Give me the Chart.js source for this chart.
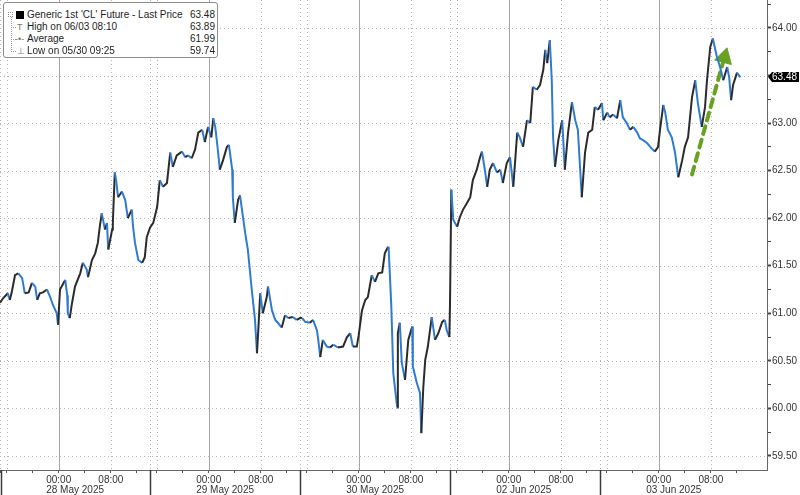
<!DOCTYPE html>
<html>
<head>
<meta charset="utf-8">
<script src="https://cdn.jsdelivr.net/npm/chart.js@4.4.1/dist/chart.umd.min.js"></script>
<style>
html, body { margin: 0; padding: 0; background: #fff; }
#wrap { position: relative; width: 800px; height: 495px; }
#legend { position: absolute; left: 3px; top: 2px; width: 215px; height: 56px; box-sizing: border-box;
  border: 1px solid #8c8c8c; border-radius: 3px; background: #fff;
  font: 10px 'Liberation Sans', Arial, sans-serif; color: #1e1e1e; }
.row { position: absolute; left: 0; right: 2px; height: 12px; line-height: 12px; white-space: nowrap; }
.row .lbl { position: absolute; left: 23px; }
.row .val { position: absolute; right: 0; }
.ico { position: absolute; color: #777; font-size: 9px; }
.tree { position: absolute; left: 7px; top: 14px; height: 33px; border-left: 1px dotted #999; }
.branch { position: absolute; left: 7px; width: 5px; border-top: 1px dotted #999; }
</style>
</head>
<body>
<div id="wrap">
  <canvas id="chart" width="800" height="495"></canvas>
  <div id="legend">
    <div class="tree"></div>
    <div class="branch" style="top:24px"></div>
    <div class="branch" style="top:36px"></div>
    <div class="branch" style="top:48px"></div>
    <div class="row" style="top:6px">
      <span style="position:absolute;left:4px;top:3px;width:5px;height:5px;border:1px dotted #888;box-sizing:border-box"></span>
      <span style="position:absolute;left:12px;top:2px;width:8px;height:8px;background:#000"></span>
      <span class="lbl">Generic 1st 'CL' Future - Last Price</span><span class="val">63.48</span>
    </div>
    <div class="row" style="top:18px">
      <span class="ico" style="left:13px">T</span>
      <span class="lbl">High on 06/03 08:10</span><span class="val">63.89</span>
    </div>
    <div class="row" style="top:30px">
      <span class="ico" style="left:11px">-•-</span>
      <span class="lbl">Average</span><span class="val">61.99</span>
    </div>
    <div class="row" style="top:42px">
      <span class="ico" style="left:13px">⊥</span>
      <span class="lbl">Low on 05/30 09:25</span><span class="val">59.74</span>
    </div>
  </div>
</div>
<script>
// Chart defaults
Chart.defaults.font.family = "'Liberation Sans', Arial, sans-serif";
Chart.defaults.font.size = 10;
Chart.defaults.color = '#333';

// Sessions (23h each, weekend removed), x = hours since first session open
const sessionDays = ['28 May 2025', '29 May 2025', '30 May 2025', '02 Jun 2025', '03 Jun 2025'];
const sessionLength = 23;
const tickOffsets = [0, 1, 5, 9, 13, 17, 21];
const tickTexts   = ['', '', '', '00:00', '', '08:00', ''];

// Price path
const hours = [
  0.0, 0.5, 1.2, 1.5, 1.8, 2.3, 2.8, 3.4, 3.8, 4.4, 4.9, 5.4, 5.7, 6.1, 6.6, 7.2, 7.7, 8.1, 8.7, 8.9,
  9.2, 10.0, 10.3, 10.4, 10.7, 11.0, 11.5, 12.3, 12.7, 13.3, 13.5, 14.1, 14.6, 15.0, 15.3, 15.6, 16.1, 16.4, 16.6, 17.2,
  17.3, 17.6, 17.8, 18.1, 18.7, 19.2, 19.6, 20.2, 20.4, 20.7, 21.2, 21.8, 22.2, 22.5, 23.0,
  23.5, 24.1, 24.5, 25.0, 25.6, 26.1, 26.5, 27.1, 27.9, 28.4, 28.8, 29.4, 29.9, 30.4, 31.0, 31.4, 31.9, 32.4, 32.7, 33.0,
  33.4, 33.7, 34.2, 34.8, 35.1, 35.6, 35.7, 36.0, 36.5, 36.8, 37.1, 37.6, 38.0, 38.6, 39.1, 39.4, 39.6, 39.9, 40.3, 40.9,
  41.1, 41.7, 42.2, 42.6, 43.2, 43.7, 44.2, 44.9, 45.5, 46.0,
  46.3, 46.8, 47.5, 48.0, 48.6, 48.8, 49.1, 49.5, 50.1, 50.6, 51.1, 51.8, 52.6, 53.2, 53.7, 54.1, 54.7, 55.0, 55.5, 56.0,
  56.4, 57.0, 57.5, 58.0, 58.6, 59.0, 59.5, 59.6, 60.0, 60.3, 60.6, 60.9, 61.0, 61.3, 61.6, 62.1, 62.6, 63.2, 63.3, 63.9,
  64.4, 64.6, 64.9, 65.2, 65.6, 66.2, 66.7, 67.2, 67.8, 68.2, 68.5, 68.9,
  69.0, 69.2, 69.5, 70.1, 70.5, 71.0, 71.6, 72.1, 72.5, 73.1, 73.6, 73.9, 74.4, 74.7, 75.1, 75.6, 76.2, 76.7, 77.1, 77.7,
  78.2, 78.7, 79.3, 79.7, 80.2, 80.8, 81.3, 81.7, 82.3, 82.8, 83.3, 83.6, 83.9, 84.3, 84.6, 84.8, 85.1, 85.6, 86.2, 86.6,
  87.1, 87.7, 88.2, 88.6, 89.2, 89.7, 90.2, 90.8, 91.2, 91.7,
  92.3, 92.5, 93.1, 93.5, 94.0, 94.6, 95.1, 95.5, 96.1, 96.6, 97.1, 97.7, 98.1, 98.6, 99.2, 99.7, 100.4, 100.9, 101.2, 101.7,
  102.0, 102.4, 103.0, 103.5, 104.0, 104.6, 105.0, 105.5, 106.1, 106.6, 107.0, 107.6, 108.1, 108.4, 108.9, 109.3, 109.9, 110.4, 110.9, 111.5,
  111.8, 112.1, 112.4, 113.0, 113.5
];
const prices = [
  61.11, 61.16, 61.21, 61.14, 61.22, 61.40, 61.42, 61.37, 61.21, 61.22, 61.32, 61.28, 61.14, 61.21, 61.22, 61.25, 61.17, 61.09, 61.00, 60.88,
  61.25, 61.35, 61.19, 61.00, 60.95, 61.09, 61.28, 61.42, 61.53, 61.46, 61.38, 61.56, 61.63, 61.74, 61.91, 62.05, 61.88, 61.95, 61.67, 61.88,
  61.95, 62.48, 62.40, 62.22, 62.28, 62.19, 62.00, 62.09, 61.91, 61.74, 61.56, 61.53, 61.59, 61.80, 61.90,
  61.95, 62.12, 62.40, 62.33, 62.37, 62.69, 62.54, 62.66, 62.70, 62.64, 62.66, 62.63, 62.72, 62.90, 62.93, 62.80, 62.96, 62.85, 63.05, 62.96,
  62.72, 62.51, 62.61, 62.75, 62.77, 62.51, 62.22, 61.95, 62.19, 62.24, 62.09, 61.84, 61.67, 61.25, 60.93, 60.58, 60.82, 61.21, 61.00, 61.17,
  61.28, 61.03, 60.93, 60.90, 60.85, 60.98, 60.95, 60.96, 60.93, 60.95,
  60.95, 60.91, 60.90, 60.93, 60.82, 60.72, 60.54, 60.72, 60.65, 60.64, 60.67, 60.64, 60.65, 60.75, 60.79, 60.65, 60.65, 60.77, 61.03, 61.14,
  61.17, 61.40, 61.33, 61.42, 61.43, 61.63, 61.70, 61.67, 61.07, 60.37, 60.19, 60.01, 60.79, 60.90, 60.48, 60.30, 60.72, 60.86, 60.44, 60.27,
  60.16, 59.74, 60.22, 60.51, 60.65, 60.96, 60.72, 60.79, 60.91, 60.93, 60.82, 60.75,
  61.11, 62.30, 61.98, 61.91, 62.01, 62.09, 62.16, 62.22, 62.40, 62.51, 62.64, 62.70, 62.48, 62.33, 62.51, 62.58, 62.48, 62.51, 62.37, 62.58,
  62.64, 62.33, 62.90, 62.85, 62.75, 63.03, 63.00, 63.38, 63.35, 63.40, 63.56, 63.77, 63.63, 63.87, 63.45, 62.85, 62.54, 62.82, 63.03, 62.51,
  62.90, 63.22, 63.03, 62.93, 62.22, 62.69, 62.90, 62.93, 63.17, 63.14,
  63.21, 63.03, 63.11, 63.06, 63.09, 63.05, 63.24, 63.06, 63.00, 62.93, 62.96, 62.90, 62.84, 62.82, 62.79, 62.75, 62.70, 62.75, 62.93, 63.19,
  63.11, 62.93, 62.85, 62.69, 62.43, 62.61, 62.75, 62.85, 63.27, 63.45, 63.21, 62.96, 63.17, 63.45, 63.80, 63.89, 63.70, 63.59, 63.45, 63.59,
  63.48, 63.24, 63.40, 63.53, 63.48
];
const lastPrice = 63.48;

// Green dashed arrow (hours, price)
const arrowFrom = [106.1, 62.46];
const arrowTo   = [110.86, 63.64];
const arrowHead = [111.06, 63.69];

// Y axis ticks
const yTicks = [59.5, 59.75, 60.0, 60.25, 60.5, 60.75, 61.0, 61.25, 61.5, 61.75,
  62.0, 62.25, 62.5, 62.75, 63.0, 63.25, 63.5, 63.75, 64.0, 64.25];

const isMajor = v => Math.abs(v * 2 - Math.round(v * 2)) < 1e-6;

const xTickValues = [];
const xTickText = {};
sessionDays.forEach((_, k) => {
  tickOffsets.forEach((o, i) => {
    const v = k * sessionLength + o;
    xTickValues.push(v);
    xTickText[v] = tickTexts[i];
  });
});

const decor = {
  id: 'decor',
  beforeDatasetsDraw(chart) {
    const { ctx, chartArea: a, scales: { x, y } } = chart;
    ctx.save();
    ctx.lineWidth = 1;
    // horizontal dotted grid
    ctx.strokeStyle = '#b3b3b3';
    ctx.setLineDash([1, 3]);
    yTicks.filter(isMajor).forEach(v => {
      const py = Math.round(y.getPixelForValue(v)) + 0.5;
      ctx.beginPath(); ctx.moveTo(a.left, py); ctx.lineTo(a.right, py); ctx.stroke();
    });
    // vertical grid
    sessionDays.forEach((_, k) => {
      [0, 1, 17].forEach(o => {
        const px = Math.round(x.getPixelForValue(k * sessionLength + o)) + 0.5;
        ctx.beginPath(); ctx.moveTo(px, a.top); ctx.lineTo(px, a.bottom); ctx.stroke();
      });
    });
    ctx.setLineDash([]);
    ctx.strokeStyle = '#a6a6a6';
    sessionDays.forEach((_, k) => {
      const px = Math.round(x.getPixelForValue(k * sessionLength + 9)) + 0.5;
      ctx.beginPath(); ctx.moveTo(px, a.top); ctx.lineTo(px, a.bottom); ctx.stroke();
    });
    ctx.restore();
  },
  afterDraw(chart) {
    const { ctx, chartArea: a, scales: { x, y } } = chart;
    ctx.save();
    // session separators under the axis
    ctx.strokeStyle = '#3a3a3a';
    ctx.lineWidth = 1.5;
    sessionDays.forEach((_, k) => {
      const px = Math.max(1, Math.round(x.getPixelForValue(k * sessionLength))) + 0.5;
      ctx.beginPath(); ctx.moveTo(px, a.bottom); ctx.lineTo(px, chart.height); ctx.stroke();
    });
    // day labels, left aligned with the 00:00 label
    ctx.font = "10px 'Liberation Sans', Arial, sans-serif";
    ctx.fillStyle = '#333';
    ctx.textBaseline = 'middle';
    const w = ctx.measureText('00:00').width;
    sessionDays.forEach((d, k) => {
      const px = x.getPixelForValue(k * sessionLength + 9);
      ctx.fillText(d, px - w / 2, a.bottom + 20);
    });
    // last price tag
    const py = Math.round(y.getPixelForValue(lastPrice));
    const l = a.right + 1;
    ctx.fillStyle = '#000';
    ctx.beginPath();
    ctx.moveTo(l, py);
    ctx.lineTo(l + 4, py - 5);
    ctx.lineTo(chart.width - 1, py - 5);
    ctx.lineTo(chart.width - 1, py + 5);
    ctx.lineTo(l + 4, py + 5);
    ctx.closePath();
    ctx.fill();
    ctx.fillStyle = '#fff';
    ctx.textAlign = 'left';
    ctx.fillText(lastPrice.toFixed(2), l + 4, py + 0.5);
    ctx.restore();
  }
};

new Chart(document.getElementById('chart'), {
  type: 'line',
  data: {
    datasets: [
      {
        data: hours.map((h, i) => ({ x: h, y: prices[i] })),
        borderWidth: 2,
        pointRadius: 0,
        tension: 0,
        borderColor: '#2b2b2b',
        segment: {
          borderColor: c => c.p1.parsed.y < c.p0.parsed.y ? '#2f7bd4' : '#2b2b2b'
        }
      },
      {
        data: [{ x: arrowFrom[0], y: arrowFrom[1] }, { x: arrowTo[0], y: arrowTo[1] }],
        borderColor: '#68a122',
        borderWidth: 4,
        borderDash: [8, 6],
        borderCapStyle: 'round',
        pointRadius: 0
      },
      {
        type: 'scatter',
        data: [{ x: arrowHead[0], y: arrowHead[1] }],
        pointStyle: 'triangle',
        pointRadius: 10,
        rotation: 15.5,
        backgroundColor: '#68a122',
        borderColor: '#68a122',
        borderWidth: 1
      }
    ]
  },
  options: {
    responsive: false,
    animation: false,
    layout: { padding: 0, autoPadding: false },
    plugins: { legend: { display: false }, tooltip: { enabled: false } },
    scales: {
      x: {
        type: 'linear',
        min: 0,
        max: 117.6,
        afterBuildTicks: s => { s.ticks = xTickValues.map(v => ({ value: v })); },
        afterFit: s => { s.height = 25; s.paddingLeft = 0; s.paddingRight = 0; },
        ticks: {
          autoSkip: false,
          maxRotation: 0,
          padding: 1,
          color: '#333',
          callback: v => xTickText[v] || ''
        },
        grid: { drawOnChartArea: false, drawTicks: true, tickLength: 3, tickColor: '#555' },
        border: { display: true, color: '#666', width: 1 }
      },
      y: {
        position: 'right',
        min: 59.352,
        max: 64.294,
        afterBuildTicks: s => { s.ticks = yTicks.map(v => ({ value: v })); },
        afterFit: s => { s.width = 33; s.paddingTop = 0; s.paddingBottom = 0; },
        ticks: {
          padding: 1,
          color: '#333',
          callback: v => (isMajor(v) && Math.abs(v - lastPrice) > 0.1) ? v.toFixed(2) : ''
        },
        grid: {
          drawOnChartArea: false,
          drawTicks: true,
          tickLength: 4,
          tickColor: '#444',
          tickWidth: c => isMajor(c.tick.value) ? 2 : 1
        },
        border: { display: true, color: '#666', width: 1 }
      }
    }
  },
  plugins: [decor]
});
</script>
</body>
</html>
